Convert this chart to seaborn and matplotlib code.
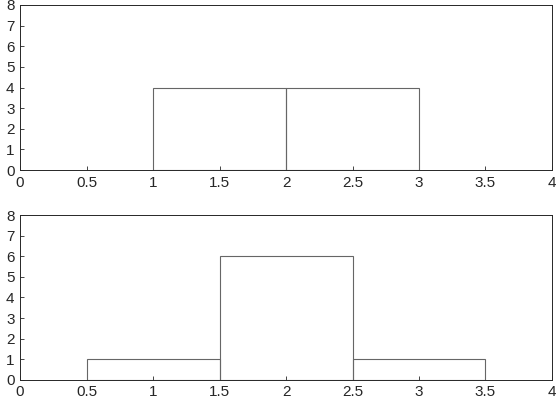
import matplotlib
matplotlib.use("Agg")
import matplotlib.pyplot as plt
import seaborn as sns

sns.set_style("ticks")
plt.rcParams['font.family'] = ['Liberation Sans', 'DejaVu Sans']

top_edges = [1, 2, 3]
top_centers = [1.5, 2.5]
top_counts = [4, 4]
bot_edges = [0.5, 1.5, 2.5, 3.5]
bot_centers = [1.0, 2.0, 3.0]
bot_counts = [1, 6, 1]
xticks = [0, 0.5, 1, 1.5, 2, 2.5, 3, 3.5, 4]
xlabels = ["0", "0.5", "1", "1.5", "2", "2.5", "3", "3.5", "4"]
yticks = list(range(9))

fig = plt.figure(figsize=(5.57, 4.08), dpi=100)
ax1 = fig.add_axes([0.036, 0.583, 0.955, 0.405])
ax2 = fig.add_axes([0.036, 0.069, 0.955, 0.404])

for ax, c, w, e in [(ax1, top_centers, top_counts, top_edges),
                    (ax2, bot_centers, bot_counts, bot_edges)]:
    sns.histplot(x=c, weights=w, bins=e, fill=False, color="#666666",
                 linewidth=0.8, ax=ax)
    ax.set_xlim(0, 4)
    ax.set_ylim(0, 8)
    ax.set_xticks(xticks)
    ax.set_xticklabels(xlabels)
    ax.set_yticks(yticks)
    ax.set_xlabel("")
    ax.set_ylabel("")
    ax.tick_params(direction="in", labelsize=11, length=3, width=0.6, pad=4)
    for s in ax.spines.values():
        s.set_linewidth(0.7)
        s.set_visible(True)

fig.savefig("out.png", dpi=100)
